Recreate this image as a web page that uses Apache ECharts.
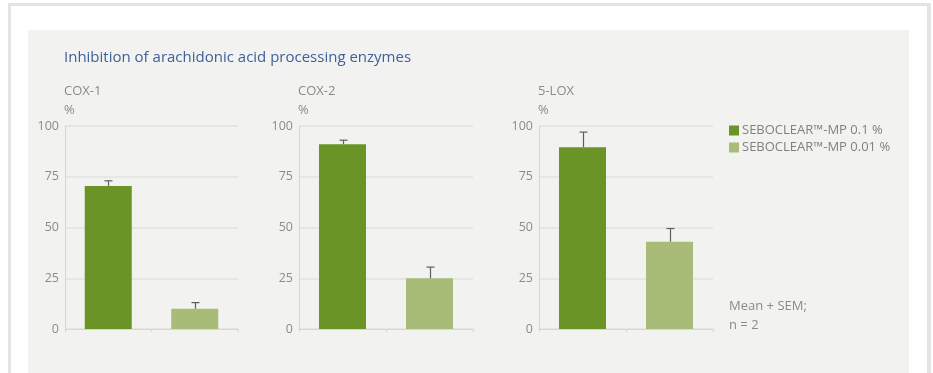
<!DOCTYPE html>
<html>
<head>
<meta charset="utf-8">
<script src="https://cdn.jsdelivr.net/npm/echarts@6/dist/echarts.min.js"></script>
<style>
html,body{margin:0;padding:0;background:#fff;}
#c{width:933px;height:373px;}
</style>
</head>
<body>
<div id="c"></div>
<script>
// ---- data ----
var enzymes = ['COX-1', 'COX-2', '5-LOX'];
var seriesNames = ['SEBOCLEAR\u2122-MP 0.1 %', 'SEBOCLEAR\u2122-MP 0.01 %'];
var categories = ['0.1 %', '0.01 %'];
var mean01 = [70.5, 91, 89.5];   // SEBOCLEAR-MP 0.1 %
var mean001 = [10, 25, 43];      // SEBOCLEAR-MP 0.01 %
var sem01 = [2.5, 2, 7.5];
var sem001 = [3, 5.5, 6.5];
var yTicks = [0, 25, 50, 75, 100];
var titleText = 'Inhibition of arachidonic acid processing enzymes';
var noteText = 'Mean + SEM;\nn = 2';

// ---- layout / style ----
var colors = ['#6b9427', '#a8bb77'];
var gridLefts = [65, 299, 539];
var gridWidths = [173, 174, 174];
var font = '"Open Sans", "Noto Sans", sans-serif';

var chart = echarts.init(document.getElementById('c'));

var grids = [], xAxes = [], yAxes = [], series = [], graphics = [];

graphics.push({type:'rect', shape:{x:8, y:3, width:923, height:380}, style:{fill:'#e3e3e3'}, z:-10});
graphics.push({type:'rect', shape:{x:11, y:6, width:916, height:380}, style:{fill:'#ffffff'}, z:-9});
graphics.push({type:'rect', shape:{x:28, y:30, width:881, height:360}, style:{fill:'#f2f3f1'}, z:-8});
graphics.push({type:'text', left:64, top:50, style:{text:titleText, fill:'#3d6199', font:'15px ' + font}});

enzymes.forEach(function(name, i){
  grids.push({left:gridLefts[i], top:126, width:gridWidths[i], height:203});
  xAxes.push({
    type:'category', gridIndex:i, data:categories,
    axisLine:{show:true, lineStyle:{color:'#d6d6d6', width:1}},
    axisTick:{show:true, length:3, lineStyle:{color:'#d6d6d6'}},
    axisLabel:{show:false}
  });
  yAxes.push({
    type:'value', gridIndex:i, min:yTicks[0], max:yTicks[yTicks.length-1], interval:25,
    axisLine:{show:true, lineStyle:{color:'#d6d6d6'}},
    axisTick:{show:false},
    splitLine:{show:true, lineStyle:{color:'#e2e2e0', width:1.5}},
    axisLabel:{color:'#8a8a8a', fontSize:12.5, fontFamily:font, margin:6}
  });
  graphics.push({type:'text', left:gridLefts[i]-1, top:85, style:{text:name, fill:'#8a8a8a', font:'13px ' + font}});
  graphics.push({type:'text', left:gridLefts[i]-1, top:104, style:{text:'%', fill:'#8a8a8a', font:'13px ' + font}});

  var means = [mean01[i], mean001[i]];
  var sems = [sem01[i], sem001[i]];
  [0,1].forEach(function(s){
    var d = [ '-', '-' ];
    d[s] = means[s];
    series.push({
      type:'bar', name:seriesNames[s], xAxisIndex:i, yAxisIndex:i,
      data:d, barWidth:47, barGap:'-100%',
      itemStyle:{color:colors[s]}, silent:true, z:2
    });
  });
  series.push({
    type:'custom', xAxisIndex:i, yAxisIndex:i, silent:true, z:3,
    data:[[0, means[0], means[0]+sems[0]], [1, means[1], means[1]+sems[1]]],
    renderItem:function(params, api){
      var lo = api.coord([api.value(0), api.value(1)]);
      var hi = api.coord([api.value(0), api.value(2)]);
      var x = Math.round(lo[0]) + 0.5;
      var st = {stroke:'#5e5e5e', lineWidth:1.2, fill:null};
      return {type:'group', children:[
        {type:'line', shape:{x1:x, y1:lo[1], x2:x, y2:hi[1]}, style:st},
        {type:'line', shape:{x1:x-4, y1:hi[1], x2:x+4, y2:hi[1]}, style:st}
      ]};
    }
  });
});

graphics.push({type:'text', left:729, top:297, style:{text:noteText, fill:'#8a8a8a', font:'13px ' + font, lineHeight:19}});

chart.setOption({
  animation:false,
  backgroundColor:'#ffffff',
  grid:grids, xAxis:xAxes, yAxis:yAxes, series:series,
  legend:{
    data:seriesNames, orient:'vertical', left:724, top:119,
    itemWidth:10, itemHeight:10, itemGap:4, icon:'rect',
    textStyle:{color:'#808080', fontSize:13, fontFamily:font, padding:[0,0,0,-2]}
  },
  graphic:graphics
});
</script>
</body>
</html>
